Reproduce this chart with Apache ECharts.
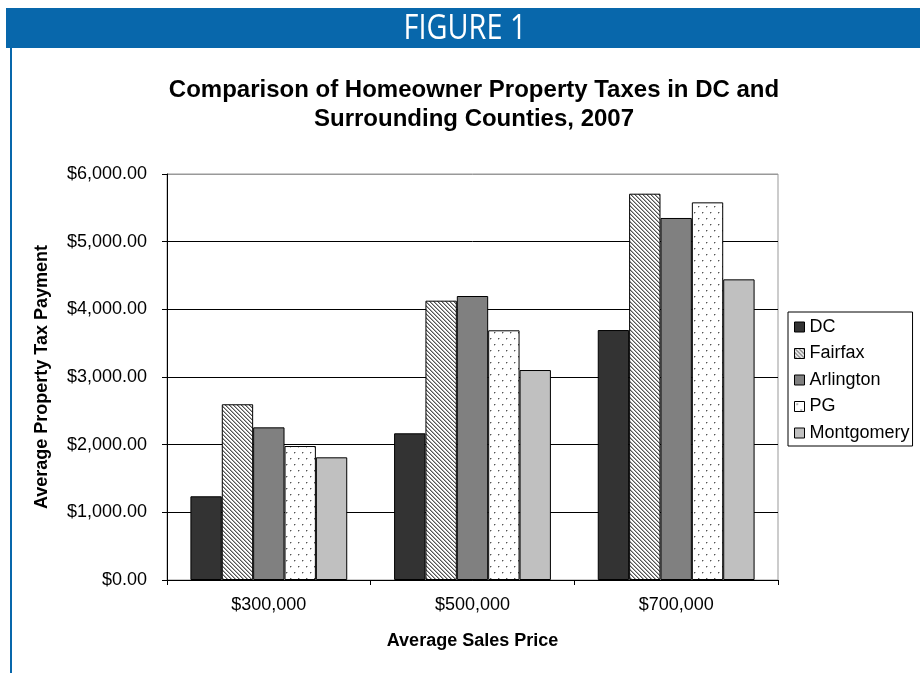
<!DOCTYPE html>
<html>
<head>
<meta charset="utf-8">
<script src="https://cdn.jsdelivr.net/npm/echarts@6/dist/echarts.min.js"></script>
<style>
html,body{margin:0;padding:0;background:#fff;}
#chart{width:920px;height:673px;}
</style>
</head>
<body>
<div id="chart"></div>
<script>
const categories = ['$300,000', '$500,000', '$700,000'];
const seriesNames = ['DC', 'Fairfax', 'Arlington', 'PG', 'Montgomery'];
const dcValues = [1237, 2168, 3694];
const fairfaxValues = [2597, 4128, 5709];
const arlingtonValues = [2256, 4197, 5350];
const pgValues = [1980, 3690, 5581];
const montgomeryValues = [1813, 3103, 4443];
const yTickValues = [0, 1000, 2000, 3000, 4000, 5000, 6000];

function makeStripe() {
  const c = document.createElement('canvas');
  c.width = 4; c.height = 4;
  const g = c.getContext('2d');
  g.fillStyle = '#fff'; g.fillRect(0, 0, 4, 4);
  for (let y = 0; y < 4; y++) {
    for (let x = 0; x < 4; x++) {
      const m = ((x - y) % 4 + 4) % 4;
      if (m === 0) { g.fillStyle = '#555'; g.fillRect(x, y, 1, 1); }
      else if (m === 1) { g.fillStyle = '#aaa'; g.fillRect(x, y, 1, 1); }
    }
  }
  return c;
}
function makeDots() {
  const c = document.createElement('canvas');
  c.width = 8; c.height = 12;
  const g = c.getContext('2d');
  g.fillStyle = '#fff'; g.fillRect(0, 0, 8, 12);
  g.fillStyle = '#555'; g.fillRect(2, 2, 1, 1); g.fillRect(6, 8, 1, 1);
  g.fillStyle = '#bbb'; g.fillRect(3, 2, 1, 1); g.fillRect(7, 8, 1, 1);
  g.fillRect(2, 3, 1, 1); g.fillRect(6, 9, 1, 1);
  return c;
}

const fills = [
  '#333333',
  { image: makeStripe(), repeat: 'repeat' },
  '#808080',
  { image: makeDots(), repeat: 'repeat' },
  '#c0c0c0'
];
const seriesData = [dcValues, fairfaxValues, arlingtonValues, pgValues, montgomeryValues];

function money(v) {
  return '$' + Number(v).toLocaleString('en-US', { minimumFractionDigits: 2, maximumFractionDigits: 2 });
}

const FONT = "'Liberation Sans', Arial, sans-serif";
const chart = echarts.init(document.getElementById('chart'));
chart.setOption({
  animation: false,
  backgroundColor: '#fff',
  textStyle: { fontFamily: FONT },
  graphic: [
    { type: 'rect', shape: { x: 6, y: 8, width: 914, height: 40 }, style: { fill: '#0867AB' }, z: 10 },
    { type: 'rect', shape: { x: 10, y: 48, width: 2, height: 625 }, style: { fill: '#0867AB' }, z: 10 },
    { type: 'text', x: 465, y: 29, scaleX: 0.85, z: 11, originX: 0, originY: 0,
      style: { text: 'FIGURE 1', fill: '#fff', font: "34px 'Open Sans', sans-serif", textAlign: 'center', textVerticalAlign: 'middle' } }
  ],
  title: {
    text: 'Comparison of Homeowner Property Taxes in DC and\nSurrounding Counties, 2007',
    left: 469, top: 71, textAlign: 'center',
    textStyle: { fontFamily: FONT, fontWeight: 'bold', fontSize: 24, lineHeight: 29, color: '#000' }
  },
  legend: {
    orient: 'vertical', left: 788, top: 312,
    padding: [6, 3, 4, 6],
    icon: 'rect',
    itemWidth: 10, itemHeight: 10, itemGap: 8.5,
    borderColor: '#000', borderWidth: 1,
    textStyle: { fontFamily: FONT, fontSize: 18, color: '#000', lineHeight: 18, padding: [0, 0, 0, 0] },
    itemStyle: { borderColor: '#000', borderWidth: 1 },
    data: seriesNames
  },
  grid: { left: 167, right: 142, top: 174, bottom: 93, show: true, borderColor: '#999', borderWidth: 1, backgroundColor: '#fff' },
  xAxis: {
    type: 'category', data: categories,
    axisLine: { lineStyle: { color: '#000', width: 1 } },
    axisTick: { show: true, length: 5, inside: false, lineStyle: { color: '#000' } },
    axisLabel: { fontFamily: FONT, fontSize: 18, color: '#000', margin: 16 },
    name: 'Average Sales Price', nameLocation: 'middle', nameGap: 52,
    nameTextStyle: { fontFamily: FONT, fontWeight: 'bold', fontSize: 18, color: '#000' }
  },
  yAxis: {
    type: 'value', min: 0, max: 6000, interval: 1000,
    axisLine: { show: true, lineStyle: { color: '#000', width: 1 } },
    axisTick: { show: true, length: 5, lineStyle: { color: '#000' } },
    axisLabel: { fontFamily: FONT, fontSize: 18, color: '#000', margin: 20,
      formatter: function (v) { return yTickValues.indexOf(v) >= 0 ? money(v) : ''; } },
    splitLine: { show: true, lineStyle: { color: ['#000', '#000', '#000', '#000', '#000', '#000', '#999'], width: 1 } },
    name: 'Average Property Tax Payment', nameLocation: 'middle', nameGap: 116,
    nameTextStyle: { fontFamily: FONT, fontWeight: 'bold', fontSize: 18, color: '#000' }
  },
  series: seriesNames.map(function (n, i) {
    return {
      name: n, type: 'bar', data: seriesData[i],
      barGap: '0%', barCategoryGap: '23%',
      itemStyle: { color: fills[i], borderColor: '#000', borderWidth: 1 }
    };
  })
});
</script>
</body>
</html>
